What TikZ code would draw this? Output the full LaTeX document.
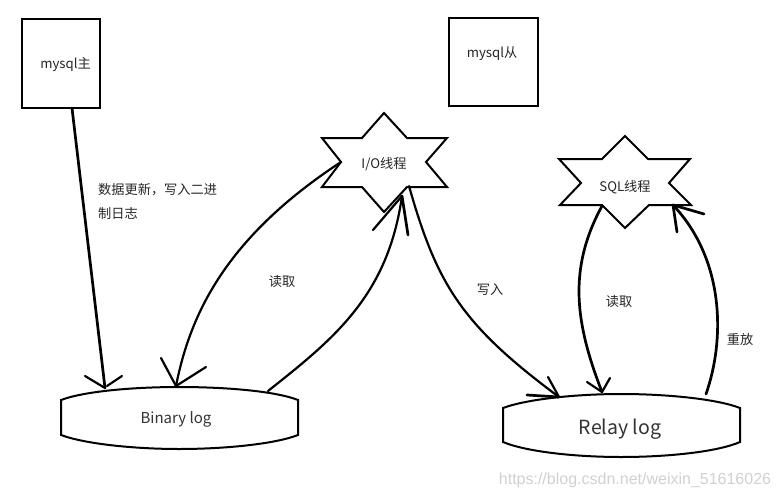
\documentclass[tikz,border=0pt]{standalone}
\usepackage{fontspec}
\setmainfont{Noto Sans CJK SC}
\newfontfamily\wmfont{Liberation Sans}
\begin{document}
\begin{tikzpicture}[x=1pt,y=-1pt,
  shapeline/.style={draw=black,line width=2pt,line join=miter},
  conn/.style={draw=black,line width=2.2pt,line cap=round},
  heavy/.style={draw=black,line width=2.7pt,line cap=round},
  lbl/.style={inner sep=0pt,font=\fontsize{13.2}{15}\selectfont,text=black!85},
  loglabel/.style={inner sep=0pt,text=black!80}]
\useasboundingbox (0,0) rectangle (779,498);
\fill[white] (0,0) rectangle (779,498);
% boxes
\node[shapeline,minimum width=78pt,minimum height=89pt,inner sep=0pt] (master) at (61,63.5) {};
\node[shapeline,minimum width=89pt,minimum height=88pt,inner sep=0pt] (slave) at (493.5,62) {};
\node[lbl] (masterlbl) at (65.5,64.5) {mysql主};
\node[lbl] (slavelbl) at (492,53.5) {mysql从};
% stars
\draw[shapeline] (384,113)--(407,138)--(447,138)--(426,162)--(447,187)--(407,187)--(384,212)--(362,187)--(322,187)--(341,162)--(322,138)--(362,138)--cycle;
\draw[shapeline] (625,136)--(648,159)--(690,159)--(669,183)--(691,205)--(649,205)--(625,228)--(602,205)--(560,205)--(581,183)--(559,159)--(602,159)--cycle;
\node[lbl] (iostar) at (384,164.5) {I/O线程};
\node[lbl] (sqlstar) at (625,187) {SQL线程};
% cylinders
\draw[shapeline] (61,400) .. controls (85,391) and (135,387) .. (179,387) .. controls (225,387) and (275,391) .. (298,400) -- (298,435) .. controls (275,444) and (225,449) .. (179,449) .. controls (135,449) and (85,444) .. (61,435) -- cycle;
\draw[shapeline] (503,408) .. controls (527,399) and (577,394) .. (621,394) .. controls (667,394) and (717,399) .. (740,408) -- (740,442) .. controls (717,452) and (667,457) .. (621,457) .. controls (577,457) and (527,452) .. (503,442) -- cycle;
\node[loglabel,font=\fontsize{15}{18}\selectfont] (binlog) at (176,419.5) {Binary log};
\node[loglabel,font=\fontsize{19.5}{22}\selectfont] (relaylog) at (620,429) {Relay log};
% connector anchors
\coordinate (mout) at (72,108);
\coordinate (bintipa) at (105,388);
\coordinate (bintipb) at (176,386);
\coordinate (binout) at (268,391);
\coordinate (ioleft) at (341,162);
\coordinate (iotip) at (402,196);
\coordinate (ioout) at (409,186);
\coordinate (relaytipa) at (559,397);
\coordinate (relaytipb) at (602,392);
\coordinate (relayout) at (706,394);
\coordinate (sqlout) at (602,206);
\coordinate (sqltip) at (673,205);
% connectors
\draw[heavy] (mout) -- (bintipa);
\draw[conn] (85,376) -- (bintipa);
\draw[conn] (122,376) -- (107,386);
\draw[conn] (ioleft) .. controls (225,238) and (190,315) .. (bintipb);
\draw[conn] (161,358) -- (bintipb);
\draw[conn] (206,367) -- (bintipb);
\draw[conn] (binout) .. controls (335,338) and (388,295) .. (iotip);
\draw[conn] (373,230) -- (iotip);
\draw[heavy] (408,235) -- (iotip);
\draw[conn] (ioout) .. controls (437,285) and (462,325) .. (relaytipa);
\draw[conn] (548,377) -- (relaytipa);
\draw[heavy] (527,395) -- (relaytipa);
\draw[heavy] (sqlout) .. controls (567,270) and (576,325) .. (relaytipb);
\draw[conn] (587,382) -- (relaytipb);
\draw[conn] (610,378) -- (relaytipb);
\draw[heavy] (relayout) .. controls (725,340) and (725,260) .. (sqltip);
\draw[heavy] (677,232) -- (sqltip);
\draw[heavy] (704,214) -- (sqltip);
% labels
\node[lbl,anchor=west] (notea) at (98,190) {数据更新，写入二进};
\node[lbl,anchor=west] (noteb) at (98,213.5) {制日志};
\node[lbl] (reada) at (282,281.5) {读取};
\node[lbl] (writea) at (490,289.5) {写入};
\node[lbl] (readb) at (619,301.5) {读取};
\node[lbl] (replay) at (740,339.5) {重放};
\node[inner sep=0pt,text=black!18,font=\wmfont\fontsize{16}{18}\selectfont] (wm) at (635,480) {https://blog.csdn.net/weixin\_51616026};
\end{tikzpicture}
\end{document}
